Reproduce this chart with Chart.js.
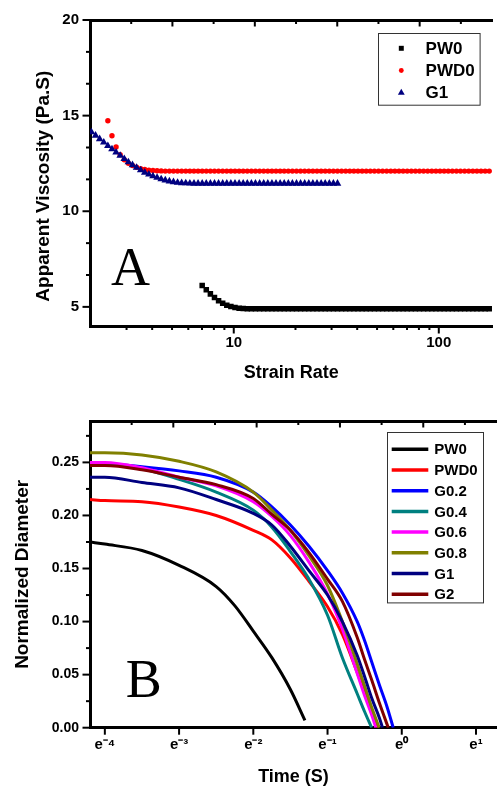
<!DOCTYPE html>
<html>
<head>
<meta charset="utf-8">
<script src="https://cdn.jsdelivr.net/npm/chart.js@4.4.1/dist/chart.umd.min.js"></script>
<style>
  html, body { margin: 0; padding: 0; background: #fff; }
  canvas { display: block; }
</style>
</head>
<body>
<canvas id="chartA" width="497" height="394"></canvas>
<canvas id="chartB" width="497" height="394"></canvas>
<script>
// ---------------- Panel A data ----------------
const strainRate = [2.023, 2.118, 2.218, 2.323, 2.432, 2.547, 2.667, 2.793, 2.924, 3.062,
  3.206, 3.357, 3.516, 3.681, 3.855, 4.036, 4.227, 4.426, 4.634, 4.853,
  5.082, 5.321, 5.572, 5.834, 6.109, 6.397, 6.699, 7.015, 7.345, 7.691,
  8.054, 8.433, 8.831, 9.247, 9.683, 10.14, 10.62, 11.12, 11.64, 12.19,
  12.76, 13.37, 14.00, 14.66, 15.35, 16.07, 16.83, 17.62, 18.45, 19.32,
  20.23, 21.18, 22.18, 23.23, 24.32, 25.47, 26.67, 27.93, 29.24, 30.62,
  32.06, 33.57, 35.16, 36.81, 38.55, 40.36, 42.27, 44.26, 46.34, 48.53,
  50.82, 53.21, 55.72, 58.34, 61.09, 63.97, 66.99, 70.15, 73.45, 76.91,
  80.54, 84.33, 88.31, 92.47, 96.83, 101.4, 106.2, 111.2, 116.4, 121.9,
  127.6, 133.7, 140.0, 146.6, 153.5, 160.7, 168.3, 176.2];

const viscPW0 = [null, null, null, null, null, null, null, null, null, null,
  null, null, null, null, null, null, null, null, null, null,
  null, null, null, null, null, null, null, 6.12, 5.90, 5.68,
  5.49, 5.32, 5.19, 5.09, 5.02, 4.97, 4.93, 4.91, 4.90, 4.90,
  4.90, 4.90, 4.90, 4.90, 4.90, 4.90, 4.90, 4.90, 4.90, 4.90,
  4.90, 4.90, 4.90, 4.90, 4.90, 4.90, 4.90, 4.90, 4.90, 4.90,
  4.90, 4.90, 4.90, 4.90, 4.90, 4.90, 4.90, 4.90, 4.90, 4.90,
  4.90, 4.90, 4.90, 4.90, 4.90, 4.90, 4.90, 4.90, 4.90, 4.90,
  4.90, 4.90, 4.90, 4.90, 4.90, 4.90, 4.90, 4.90, 4.90, 4.90,
  4.90, 4.90, 4.90, 4.90, 4.90, 4.90, 4.90, 4.90];

const viscPWD0 = [null, null, null, null, 14.73, 13.95, 13.36, 12.96, 12.69, 12.51,
  12.39, 12.30, 12.23, 12.18, 12.15, 12.13, 12.12, 12.11, 12.10, 12.10,
  12.10, 12.10, 12.10, 12.10, 12.10, 12.10, 12.10, 12.10, 12.10, 12.10,
  12.10, 12.10, 12.10, 12.10, 12.10, 12.10, 12.10, 12.10, 12.10, 12.10,
  12.10, 12.10, 12.10, 12.10, 12.10, 12.10, 12.10, 12.10, 12.10, 12.10,
  12.10, 12.10, 12.10, 12.10, 12.10, 12.10, 12.10, 12.10, 12.10, 12.10,
  12.10, 12.10, 12.10, 12.10, 12.10, 12.10, 12.10, 12.10, 12.10, 12.10,
  12.10, 12.10, 12.10, 12.10, 12.10, 12.10, 12.10, 12.10, 12.10, 12.10,
  12.10, 12.10, 12.10, 12.10, 12.10, 12.10, 12.10, 12.10, 12.10, 12.10,
  12.10, 12.10, 12.10, 12.10, 12.10, 12.10, 12.10, 12.10];

const viscG1 = [14.14, 13.96, 13.78, 13.60, 13.42, 13.25, 13.08, 12.91, 12.74, 12.57,
  12.42, 12.28, 12.15, 12.03, 11.93, 11.84, 11.76, 11.68, 11.62, 11.57,
  11.53, 11.50, 11.48, 11.47, 11.46, 11.45, 11.45, 11.45, 11.45, 11.45,
  11.45, 11.45, 11.45, 11.45, 11.45, 11.45, 11.45, 11.45, 11.45, 11.45,
  11.45, 11.45, 11.45, 11.45, 11.45, 11.45, 11.45, 11.45, 11.45, 11.45,
  11.45, 11.45, 11.45, 11.45, 11.45, 11.45, 11.45, 11.45, 11.45, 11.45,
  11.45];

const xTicksA = [3, 4, 5, 6, 7, 8, 9, 10, 20, 30, 40, 50, 60, 70, 80, 90, 100];
const xLabelsA = [10, 100];
const yTicksA = [5, 6.667, 8.333, 10, 11.667, 13.333, 15, 16.667, 18.333, 20];
const yLabelsA = [5, 10, 15, 20];

// ---------------- Panel B data ----------------
const tPW0  = [0.0150, 0.0183, 0.0302, 0.0498, 0.0821, 0.1054, 0.1353, 0.1738, 0.2231, 0.2712];
const dPW0  = [0.175, 0.173, 0.167, 0.153, 0.133, 0.115, 0.091, 0.066, 0.036, 0.007];
const tPWD0 = [0.0150, 0.0183, 0.0302, 0.0498, 0.0821, 0.1353, 0.1738, 0.2231, 0.2865, 0.3679, 0.4493, 0.5488, 0.6065, 0.6703, 0.7261];
const dPWD0 = [0.215, 0.214, 0.213, 0.208, 0.200, 0.186, 0.177, 0.160, 0.138, 0.114, 0.088, 0.052, 0.033, 0.013, 0.000];
const tG02  = [0.0150, 0.0183, 0.0302, 0.0498, 0.0821, 0.1353, 0.1738, 0.2231, 0.2865, 0.3679, 0.4493, 0.5488, 0.6065, 0.6703, 0.7408, 0.8187, 0.8914];
const dG02  = [0.250, 0.249, 0.246, 0.242, 0.236, 0.222, 0.208, 0.191, 0.171, 0.148, 0.127, 0.100, 0.082, 0.061, 0.040, 0.020, 0.000];
const tG04  = [0.0150, 0.0183, 0.0302, 0.0498, 0.0821, 0.1353, 0.1738, 0.2231, 0.2865, 0.3679, 0.4493, 0.5488, 0.6065, 0.6663];
const dG04  = [0.249, 0.248, 0.244, 0.234, 0.222, 0.205, 0.189, 0.166, 0.140, 0.106, 0.066, 0.032, 0.015, 0.000];
const tG06  = [0.0150, 0.0183, 0.0302, 0.0498, 0.0821, 0.1353, 0.1738, 0.2231, 0.2865, 0.3679, 0.4493, 0.5488, 0.6065, 0.6703, 0.7054];
const dG06  = [0.250, 0.250, 0.245, 0.236, 0.228, 0.213, 0.199, 0.181, 0.156, 0.126, 0.093, 0.051, 0.030, 0.011, 0.000];
const tG08  = [0.0150, 0.0183, 0.0302, 0.0498, 0.0821, 0.1353, 0.1738, 0.2231, 0.2865, 0.3679, 0.4493, 0.5488, 0.6065, 0.6703, 0.7386];
const dG08  = [0.259, 0.259, 0.257, 0.251, 0.241, 0.222, 0.205, 0.186, 0.162, 0.134, 0.100, 0.060, 0.039, 0.018, 0.000];
const tG1   = [0.0150, 0.0183, 0.0302, 0.0498, 0.0821, 0.1353, 0.1738, 0.2231, 0.2865, 0.3679, 0.4493, 0.5488, 0.6065, 0.6703, 0.7408, 0.7718];
const dG1   = [0.236, 0.236, 0.231, 0.226, 0.215, 0.202, 0.191, 0.171, 0.148, 0.125, 0.100, 0.068, 0.048, 0.027, 0.009, 0.000];
const tG2   = [0.0150, 0.0183, 0.0302, 0.0498, 0.0821, 0.1353, 0.1738, 0.2231, 0.2865, 0.3679, 0.4493, 0.5488, 0.6065, 0.6703, 0.7408, 0.8336];
const dG2   = [0.247, 0.247, 0.243, 0.236, 0.229, 0.216, 0.201, 0.186, 0.165, 0.140, 0.119, 0.085, 0.064, 0.044, 0.023, 0.000];

const xTickExpB = [-4, -3, -2, -1, 0, 1];
const xTickLabelsB = ['e\u207B\u2074', 'e\u207B\u00B3', 'e\u207B\u00B2', 'e\u207B\u00B9', 'e\u2070', 'e\u00B9'];
const yTicksB = [0, 0.025, 0.05, 0.075, 0.1, 0.125, 0.15, 0.175, 0.2, 0.225, 0.25, 0.275];
const yLabelsB = [0, 0.05, 0.1, 0.15, 0.2, 0.25];

const topTicks = [1, 2, 3, 4, 5, 6, 7, 8, 9];
const topMajor = [2, 4, 6, 8];

// ---------------- helpers ----------------
Chart.defaults.font.family = "'Liberation Sans', Arial, sans-serif";
Chart.defaults.font.weight = 'bold';
Chart.defaults.color = '#000';

function pairs(xs, ys) {
  const out = [];
  for (let i = 0; i < xs.length; i++) {
    if (ys[i] !== null && ys[i] !== undefined) out.push({x: xs[i], y: ys[i]});
  }
  return out;
}
function inList(v, list) {
  return list.some(m => Math.abs(m - v) < 1e-6 * Math.max(1, Math.abs(m)));
}

function makeTickPlugin(axes) {
  return {
    id: 'tickMarks',
    afterDraw(chart) {
      const ctx = chart.ctx;
      ctx.save();
      ctx.strokeStyle = '#000';
      ctx.lineWidth = 2;
      axes.forEach(cfg => {
        const s = chart.scales[cfg.id];
        if (!s) return;
        s.ticks.forEach(t => {
          const len = inList(t.value, cfg.majors) ? cfg.major : cfg.minor;
          const p = s.getPixelForValue(t.value);
          ctx.beginPath();
          if (s.position === 'bottom') { ctx.moveTo(p, s.top); ctx.lineTo(p, s.top + len); }
          else if (s.position === 'top') { ctx.moveTo(p, s.bottom); ctx.lineTo(p, s.bottom + len); }
          else { ctx.moveTo(s.right, p); ctx.lineTo(s.right - len, p); }
          ctx.stroke();
        });
      });
      ctx.restore();
    }
  };
}

function makeLegendPlugin(cfg) {
  return {
    id: 'boxLegend',
    afterDraw(chart) {
      const ctx = chart.ctx, a = chart.chartArea;
      const x0 = a.right - cfg.right - cfg.width;
      const y0 = a.top + cfg.top;
      ctx.save();
      ctx.strokeStyle = '#333';
      ctx.lineWidth = 1;
      ctx.strokeRect(Math.round(x0) + 0.5, Math.round(y0) + 0.5, cfg.width, cfg.height);
      ctx.font = cfg.font;
      ctx.textBaseline = 'middle';
      ctx.textAlign = 'left';
      chart.data.datasets.forEach((ds, i) => {
        const y = y0 + cfg.firstRow + i * cfg.rowHeight;
        if (cfg.kind === 'marker') {
          ctx.fillStyle = ds.backgroundColor;
          Chart.helpers.drawPoint(ctx, {pointStyle: ds.pointStyle, radius: ds.pointRadius * cfg.markerScale, borderWidth: 0, rotation: 0}, x0 + cfg.markerX, y);
        } else {
          ctx.strokeStyle = ds.borderColor;
          ctx.lineWidth = ds.borderWidth + 0.5;
          ctx.beginPath();
          ctx.moveTo(x0 + cfg.lineX1, y);
          ctx.lineTo(x0 + cfg.lineX2, y);
          ctx.stroke();
        }
        ctx.fillStyle = '#000';
        ctx.fillText(ds.label, x0 + cfg.textX, y + 1);
      });
      ctx.restore();
    }
  };
}

function makePanelLabel(text, dx, dy) {
  return {
    id: 'panelLabel',
    afterDraw(chart) {
      const ctx = chart.ctx, a = chart.chartArea;
      ctx.save();
      ctx.font = "54px 'Liberation Serif', 'Times New Roman', serif";
      ctx.fillStyle = '#000';
      ctx.textBaseline = 'alphabetic';
      ctx.textAlign = 'left';
      ctx.fillText(text, a.left + dx, a.top + dy);
      ctx.restore();
    }
  };
}

const axisBorder = {display: true, color: '#000', width: 3};
const noGrid = {display: false, drawTicks: false};

// ---------------- Chart A ----------------
new Chart(document.getElementById('chartA'), {
  type: 'scatter',
  data: {
    datasets: [
      {label: 'PW0', data: pairs(strainRate, viscPW0), pointStyle: 'rect', pointRadius: 3.9,
       backgroundColor: '#000000', borderColor: '#000000', borderWidth: 0, order: 3},
      {label: 'PWD0', data: pairs(strainRate, viscPWD0), pointStyle: 'circle', pointRadius: 2.7,
       backgroundColor: '#ff0000', borderColor: '#ff0000', borderWidth: 0, order: 2},
      {label: 'G1', data: pairs(strainRate, viscG1), pointStyle: 'triangle', pointRadius: 4.4,
       backgroundColor: '#000080', borderColor: '#000080', borderWidth: 0, order: 1}
    ]
  },
  options: {
    responsive: false,
    animation: false,
    events: [],
    layout: {padding: 0},
    plugins: {legend: {display: false}, tooltip: {enabled: false}},
    scales: {
      x: {
        type: 'logarithmic', position: 'bottom', min: 1.99, max: 183,
        afterBuildTicks: s => { s.ticks = xTicksA.map(v => ({value: v})); },
        afterFit: s => { s.height = 68; },
        grid: noGrid, border: axisBorder,
        ticks: {autoSkip: false, maxRotation: 0, minRotation: 0, padding: 8, font: {size: 15},
          callback: v => inList(v, xLabelsA) ? String(v) : ''},
        title: {display: true, text: 'Strain Rate', font: {size: 18, weight: 'bold'}, padding: {top: 0, bottom: 10}}
      },
      y: {
        type: 'linear', position: 'left', min: 4, max: 20,
        afterBuildTicks: s => { s.ticks = yTicksA.map(v => ({value: v})); },
        afterFit: s => { s.width = 90; },
        grid: noGrid, border: axisBorder,
        ticks: {autoSkip: false, padding: 11, font: {size: 15},
          callback: v => inList(v, yLabelsA) ? String(v) : ''},
        title: {display: true, text: 'Apparent Viscosity (Pa.S)     ', font: {size: 19, weight: 'bold'}, padding: {top: 32, bottom: 0}}
      },
      x2: {
        type: 'linear', position: 'top', min: 0, max: 9.77,
        afterBuildTicks: s => { s.ticks = topTicks.map(v => ({value: v})); },
        afterFit: s => { s.height = 20; },
        grid: noGrid, border: axisBorder,
        ticks: {display: false}
      }
    }
  },
  plugins: [
    makeTickPlugin([
      {id: 'x', majors: xLabelsA, major: 7.5, minor: 4},
      {id: 'y', majors: yLabelsA, major: 7.5, minor: 4},
      {id: 'x2', majors: topMajor, major: 6.5, minor: 4}
    ]),
    makeLegendPlugin({kind: 'marker', right: 12.7, top: 13.3, width: 101.6, height: 71.7,
      firstRow: 15, rowHeight: 22.2, markerX: 23, markerScale: 0.9, textX: 47.3,
      font: "bold 17px 'Liberation Sans', Arial, sans-serif"}),
    makePanelLabel('A', 21, 265)
  ]
});

// ---------------- Chart B ----------------
function lineDs(label, t, d, color, order) {
  return {label, data: pairs(t, d), showLine: true, pointRadius: 0, borderColor: color,
    backgroundColor: color, borderWidth: 3, cubicInterpolationMode: 'monotone', order};
}

new Chart(document.getElementById('chartB'), {
  type: 'scatter',
  data: {
    datasets: [
      lineDs('PW0', tPW0, dPW0, '#000000', 8),
      lineDs('PWD0', tPWD0, dPWD0, '#ff0000', 7),
      lineDs('G0.2', tG02, dG02, '#0000ff', 6),
      lineDs('G0.4', tG04, dG04, '#008080', 5),
      lineDs('G0.6', tG06, dG06, '#ff00ff', 4),
      lineDs('G0.8', tG08, dG08, '#808000', 3),
      lineDs('G1', tG1, dG1, '#000080', 2),
      lineDs('G2', tG2, dG2, '#800000', 1)
    ]
  },
  options: {
    responsive: false,
    animation: false,
    events: [],
    layout: {padding: 0},
    plugins: {legend: {display: false}, tooltip: {enabled: false}},
    scales: {
      x: {
        type: 'logarithmic', position: 'bottom', min: Math.exp(-4.2), max: Math.exp(1.283),
        afterBuildTicks: s => { s.ticks = xTickExpB.map(n => ({value: Math.exp(n)})); },
        afterFit: s => { s.height = 60.3; },
        grid: noGrid, border: axisBorder,
        ticks: {autoSkip: false, maxRotation: 0, minRotation: 0, padding: 8, font: {size: 15},
          callback: (v, i) => xTickLabelsB[i]},
        title: {display: true, text: 'Time (S)', font: {size: 18, weight: 'bold'}, padding: {top: 0, bottom: 0}}
      },
      y: {
        type: 'linear', position: 'left', min: 0, max: 0.289,
        afterBuildTicks: s => { s.ticks = yTicksB.map(v => ({value: v})); },
        afterFit: s => { s.width = 90; },
        grid: noGrid, border: axisBorder,
        ticks: {autoSkip: false, padding: 11, font: {size: 14},
          callback: v => inList(v, yLabelsB) ? v.toFixed(2) : ''},
        title: {display: true, text: 'Normalized Diameter', font: {size: 19, weight: 'bold'}, padding: {top: 11, bottom: 0}}
      },
      x2: {
        type: 'linear', position: 'top', min: 0, max: 9.77,
        afterBuildTicks: s => { s.ticks = topTicks.map(v => ({value: v})); },
        afterFit: s => { s.height = 27; },
        grid: noGrid, border: axisBorder,
        ticks: {display: false}
      }
    }
  },
  plugins: [
    makeTickPlugin([
      {id: 'x', majors: xTickExpB.map(n => Math.exp(n)), major: 7, minor: 4},
      {id: 'y', majors: yLabelsB, major: 7.5, minor: 4},
      {id: 'x2', majors: topMajor, major: 6.5, minor: 4}
    ]),
    makeLegendPlugin({kind: 'line', right: 13.7, top: 11.3, width: 96, height: 170.4,
      firstRow: 17, rowHeight: 20.7, lineX1: 4.4, lineX2: 41, textX: 47,
      font: "bold 15px 'Liberation Sans', Arial, sans-serif"}),
    makePanelLabel('B', 35.7, 275.7)
  ]
});
</script>
</body>
</html>
